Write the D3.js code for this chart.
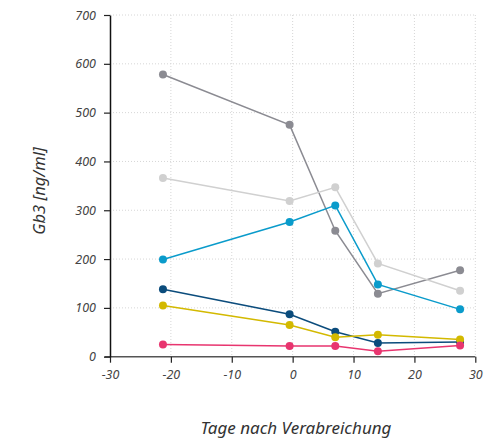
<!DOCTYPE html>
<html><head><meta charset="utf-8">
<script src="https://cdn.jsdelivr.net/npm/d3@7"></script>
<style>
body{margin:0;background:#fff;}
text{font-family:"Noto Sans","Open Sans",sans-serif;font-style:italic;}
</style></head>
<body><svg id="c" width="493" height="440"></svg>
<script>
const days = [-21.3, -0.5, 7, 14, 27.5];
const seriesNames = ["darkgray","lightgray","blue","navy","yellow","pink"];
const seriesColors = ["#8b8b92","#d0d0d0","#0a9bcb","#0b4c7c","#d3b900","#e8356f"];
const darkgray = [578, 475, 258, 129, 177];
const lightgray = [366, 319, 347, 191, 135];
const blue = [199, 276, 310, 148, 97];
const navy = [138, 87, 51, 28, 30];
const yellow = [105, 65, 40, 45, 35];
const pink = [25, 22, 22, 11, 23];
const allSeries = [darkgray, lightgray, blue, navy, yellow, pink];
const xTicks = [-30,-20,-10,0,10,20,30];
const yTicks = [0,100,200,300,400,500,600,700];
const xTitle = "Tage nach Verabreichung";
const yTitle = "Gb3 [ng/ml]";

const svg = d3.select("#c");
const x = d3.scaleLinear().domain([-30,30]).range([110,475.3]);
const y = d3.scaleLinear().domain([0,700]).range([356.7,15]);
const fmt = d => String(d);

// grid
const g = svg.append("g");
g.selectAll(".hg").data(yTicks.filter(d=>d>0)).enter().append("line")
 .attr("x1",110).attr("x2",475.3).attr("y1",d=>y(d)).attr("y2",d=>y(d))
 .attr("stroke","#d6d6d6").attr("stroke-width",1).attr("stroke-dasharray","1,2");
g.selectAll(".vg").data(xTicks.filter(d=>d>-30)).enter().append("line")
 .attr("x1",d=>x(d)).attr("x2",d=>x(d)).attr("y1",y(700)).attr("y2",y(0))
 .attr("stroke","#d6d6d6").attr("stroke-width",1).attr("stroke-dasharray","1,2");

// axes
const xa = svg.append("g").attr("transform",`translate(0,${y(0)})`)
 .call(d3.axisBottom(x).tickValues(xTicks).tickFormat(fmt).tickSize(6).tickPadding(7).tickSizeOuter(0));
xa.select(".domain").attr("stroke","#555").attr("stroke-width",1.5).attr("d",`M104.5,0H${x(30)}`);
xa.selectAll(".tick line").attr("stroke","#222").attr("stroke-width",1.2);
xa.selectAll("text").attr("font-size",12.5).attr("fill","#444").attr("font-family","Noto Sans").attr("font-style","italic");

const ya = svg.append("g").attr("transform",`translate(110,0)`)
 .call(d3.axisLeft(y).tickValues(yTicks).tickFormat(fmt).tickSize(6).tickPadding(8).tickSizeOuter(0));
ya.select(".domain").attr("stroke","#111").attr("stroke-width",1.5);
ya.selectAll(".tick line").attr("stroke","#222").attr("stroke-width",1.2);
ya.selectAll("text").attr("font-size",12.5).attr("fill","#444").attr("font-family","Noto Sans").attr("font-style","italic");

// series
const line = d3.line().x((d,i)=>x(days[i])).y(d=>y(d));
allSeries.forEach((s,k)=>{
  const sg = svg.append("g");
  sg.append("path").datum(s).attr("d",line).attr("fill","none")
    .attr("stroke",seriesColors[k]).attr("stroke-width",1.5);
  sg.selectAll("circle").data(s).enter().append("circle")
    .attr("cx",(d,i)=>x(days[i])).attr("cy",d=>y(d)).attr("r",4)
    .attr("fill",seriesColors[k]);
});

// titles
svg.append("text").attr("x",296).attr("y",434).attr("text-anchor","middle")
 .attr("font-size",17).attr("fill","#333").text(xTitle);
svg.append("text").attr("transform","translate(45,191) rotate(-90)").attr("text-anchor","middle")
 .attr("font-size",16.5).attr("fill","#333").text(yTitle);
</script></body></html>
